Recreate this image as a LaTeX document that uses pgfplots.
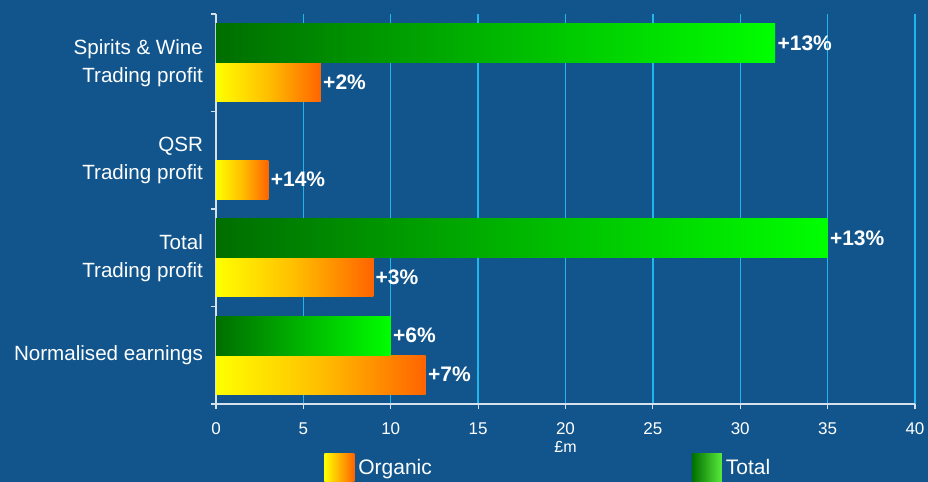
\documentclass[border=0pt]{standalone}
\usepackage{pgfplots}
\pgfplotsset{compat=1.18}
\usepackage{fontspec}
\setmainfont{Liberation Sans}
\definecolor{bg}{RGB}{17,85,140}
\definecolor{gridc}{RGB}{30,182,235}
\definecolor{dgreen}{RGB}{0,110,0}
\definecolor{bgreen}{RGB}{0,255,0}
\definecolor{lgreen}{RGB}{90,235,60}
\definecolor{orng}{RGB}{255,100,0}
\definecolor{amber}{RGB}{255,190,0}
\definecolor{axc}{RGB}{215,225,235}
\begin{document}
\begin{tikzpicture}
\fill[bg] (0,0) rectangle (464pt,241pt);
\useasboundingbox (0,0) rectangle (464pt,241pt);
\begin{axis}[
  at={(108pt,39pt)}, anchor=south west,
  scale only axis, width=349.5pt, height=195pt,
  xmin=0, xmax=40, ymin=-0.5, ymax=3.5, y dir=reverse,
  xbar, bar width=19.5pt,
  axis x line*=bottom, axis y line*=left,
  axis line style={-, axc, line width=0.8pt},
  xtick={0,5,...,40},
  tick align=outside, major tick length=2.5pt,
  every tick/.style={axc, line width=0.6pt},
  xmajorgrids, grid style={gridc, line width=0.7pt},
  /pgf/number format/assume math mode=true,
  xticklabel style={font=\fontsize{8.5}{10}\selectfont, text=white, yshift=-3.5pt},
  xlabel={£m}, xlabel style={font=\fontsize{8}{9}\selectfont, text=white, yshift=4pt},
  ytick={-0.5,0.5,1.5,2.5,3.5}, yticklabels={,,,,},
  extra y ticks={0,1,2,3},
  extra y tick labels={{Spirits \& Wine\\Trading profit},{QSR\\Trading profit},{Total\\Trading profit},{Normalised earnings}},
  extra y tick style={major tick length=0pt, yticklabel style={align=right, font=\fontsize{10.3}{14}\selectfont, text=white, xshift=-3pt}},
  nodes near coords, point meta=explicit symbolic,
  nodes near coords style={font=\bfseries\fontsize{10.5}{12}\selectfont, text=white, anchor=west, inner xsep=1pt},
  org/.style={draw=none, left color=yellow, right color=orng, middle color=amber, bar shift=-9.75pt},
  tot/.style={draw=none, left color=dgreen, right color=bgreen, bar shift=9.75pt},
  legend columns=2,
  legend style={at={(0.1545,-0.164)}, anchor=west, draw=none, fill=none, inner sep=0pt,
    font=\fontsize{10.5}{12}\selectfont, text=white,
    /tikz/every even column/.append style={column sep=128pt}},
]
% Organic
\addplot[org, legend image code/.code={\shade[left color=yellow, right color=orng] (0pt,-7pt) rectangle (15pt,7pt);}]
  coordinates {(6,0) [+2\%]};
\addlegendentry{Organic}
% Total
\addplot[tot, legend image code/.code={\shade[left color=dgreen, right color=lgreen] (0pt,-7pt) rectangle (15pt,7pt);}]
  coordinates {(32,0) [+13\%]};
\addlegendentry{Total}
\addplot[org, forget plot] coordinates {(3,1) [+14\%]};
\addplot[org, forget plot] coordinates {(9,2) [+3\%]};
\addplot[org, forget plot] coordinates {(12,3) [+7\%]};
\addplot[tot, forget plot] coordinates {(35,2) [+13\%]};
\addplot[tot, forget plot] coordinates {(10,3) [+6\%]};
\end{axis}
\end{tikzpicture}
\end{document}
